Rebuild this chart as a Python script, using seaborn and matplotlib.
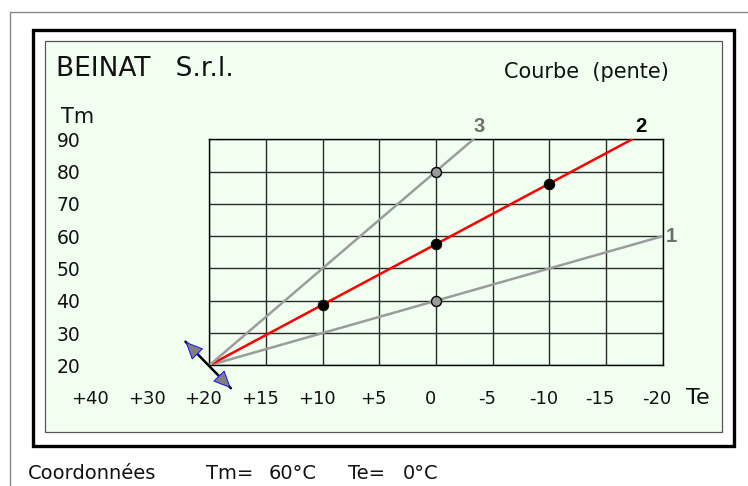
import numpy as np
import pandas as pd
import seaborn as sns
import matplotlib.pyplot as plt
from matplotlib.patches import Rectangle
from matplotlib.lines import Line2D
from matplotlib.transforms import ScaledTranslation

# curves (Te -> Tm), all start at the pivot point 20/20
curve_id = ['1', '1', '2', '2', '3', '3']
curve_te = [20, -20, 20, -17.3, 20, -3.3]
curve_tm = [20, 60, 20, 90, 20, 90]

# points on curve 2 and the grey reference points
red_pts_te = [10, 0, -10]
red_pts_tm = [38.7, 57.5, 76.2]
grey_pts_te = [0, 0]
grey_pts_tm = [40, 80]

# axis ticks
te_grid = [20, 15, 10, 5, 0, -5, -10, -15, -20]
te_label_pos = [30, 25, 20, 15, 10, 5, 0, -5, -10, -15, -20]
te_labels = ['+40', '+30', '+20', '+15', '+10', '+5', '0', '-5', '-10', '-15', '-20']
tm_ticks = [20, 30, 40, 50, 60, 70, 80, 90]

# drag handle at the pivot
handle_te = [22.1, 18.1]
handle_tm = [27.3, 12.9]

W, H = 748, 486


def fx(p):
    return p / W


def fy(p):
    return 1 - p / H


sns.set_style('white')
plt.rcParams['font.family'] = ['DejaVu Sans']

fig = plt.figure(figsize=(W / 100, H / 100), dpi=100)

# frames
fig.add_artist(Line2D([fx(10), fx(10), fx(748)], [fy(486), fy(12), fy(12)],
                      color='#8a8a8a', lw=1.0))
fig.add_artist(Rectangle((fx(32.7), fy(445.7)), fx(733.7) - fx(32.7), fy(30.3) - fy(445.7),
                         fill=False, ec='black', lw=2.4, zorder=-2))
fig.add_artist(Rectangle((fx(44.5), fy(432)), fx(721.7) - fx(44.5), fy(41.5) - fy(432),
                         fc='#f0fff0', ec='#555555', lw=0.9, zorder=-1))

ax = fig.add_axes([fx(209.3), fy(365.3), (662.7 - 209.3) / W, (365.3 - 139.3) / H])
ax.patch.set_alpha(0)

df = pd.DataFrame({'curve': curve_id, 'Te': curve_te, 'Tm': curve_tm})
sns.lineplot(data=df, x='Te', y='Tm', hue='curve', estimator=None, sort=False,
             palette={'1': '#9c9c9c', '2': '#ff0000', '3': '#9c9c9c'},
             linewidth=1.8, legend=False, ax=ax, zorder=3)
sns.scatterplot(x=grey_pts_te, y=grey_pts_tm, color='#9a9a9a', edgecolor='black',
                linewidth=1.0, s=52, ax=ax, zorder=5)
sns.scatterplot(x=red_pts_te, y=red_pts_tm, color='black', edgecolor='black',
                s=58, ax=ax, zorder=5)

ax.set_xlim(20, -20)
ax.set_ylim(20, 90)
ax.set_xticks(te_grid)
ax.set_xticklabels([])
ax.set_yticks(tm_ticks)
ax.set_yticklabels([str(v) for v in tm_ticks], fontsize=13.5, color='#111111')
ax.tick_params(length=0)
ax.tick_params(axis='y', pad=93)
ax.grid(True, color='#2a2a2a', lw=1.0)
ax.set_xlabel('')
ax.set_ylabel('')
for s in ax.spines.values():
    s.set_visible(True)
    s.set_color('black')
    s.set_linewidth(1.0)

# x labels (the left part of the scale is compressed)
shift = ScaledTranslation(-6 / 100, -34 / 100, fig.dpi_scale_trans)
for pos, lab in zip(te_label_pos, te_labels):
    ax.text(pos, 20, lab, transform=ax.transData + shift,
            ha='center', va='center', fontsize=13, color='#111111', clip_on=False)

# curve numbers
end_idx = {'1': 1, '2': 3, '3': 5}
offsets = {'1': (9, 0), '2': (8.5, 12.5), '3': (5.7, 12.5)}
colors = {'1': '#6e6e6e', '2': 'black', '3': '#6e6e6e'}
for k, i in end_idx.items():
    ax.annotate(k, xy=(curve_te[i], curve_tm[i]), xytext=offsets[k], textcoords='offset pixels',
                ha='center', va='center', fontsize=14.5, fontweight='bold',
                family=['Liberation Sans'], color=colors[k], annotation_clip=False)

# drag handle
ax.plot(handle_te, handle_tm, color='black', lw=1.8, clip_on=False, zorder=4)
for a, b in [(0, 1), (1, 0)]:
    tip = (handle_te[a], handle_tm[a])
    base = (handle_te[a] + 0.3 * (handle_te[b] - handle_te[a]),
            handle_tm[a] + 0.3 * (handle_tm[b] - handle_tm[a]))
    ax.annotate('', xy=tip, xytext=base, annotation_clip=False,
                arrowprops=dict(arrowstyle='-|>,head_length=0.42,head_width=0.19',
                                mutation_scale=27, fc='#808080', ec='#1010ff', lw=0.7,
                                shrinkA=0, shrinkB=0), zorder=5)

# texts
fig.text(fx(56.5), fy(69), 'BEINAT   S.r.l.', fontsize=19, ha='left', va='center', color='#111111')
fig.text(fx(669), fy(72), 'Courbe  (pente)', fontsize=15, ha='right', va='center', color='#111111')
fig.text(fx(61), fy(117), 'Tm', fontsize=15, ha='left', va='center', color='#111111')
fig.text(fx(686), fy(398), 'Te', fontsize=16, ha='left', va='center', color='#111111')

fig.text(fx(28), fy(473), 'Coordonnées', fontsize=14, ha='left', va='center', color='#111111')
fig.text(fx(206.5), fy(473), 'Tm=', fontsize=14, ha='left', va='center', color='#111111')
fig.text(fx(269), fy(473), '60°C', fontsize=14, ha='left', va='center', color='#111111')
fig.text(fx(348), fy(473), 'Te=', fontsize=14, ha='left', va='center', color='#111111')
fig.text(fx(403), fy(473), '0°C', fontsize=14, ha='left', va='center', color='#111111')

fig.savefig('out.png', dpi=100)
